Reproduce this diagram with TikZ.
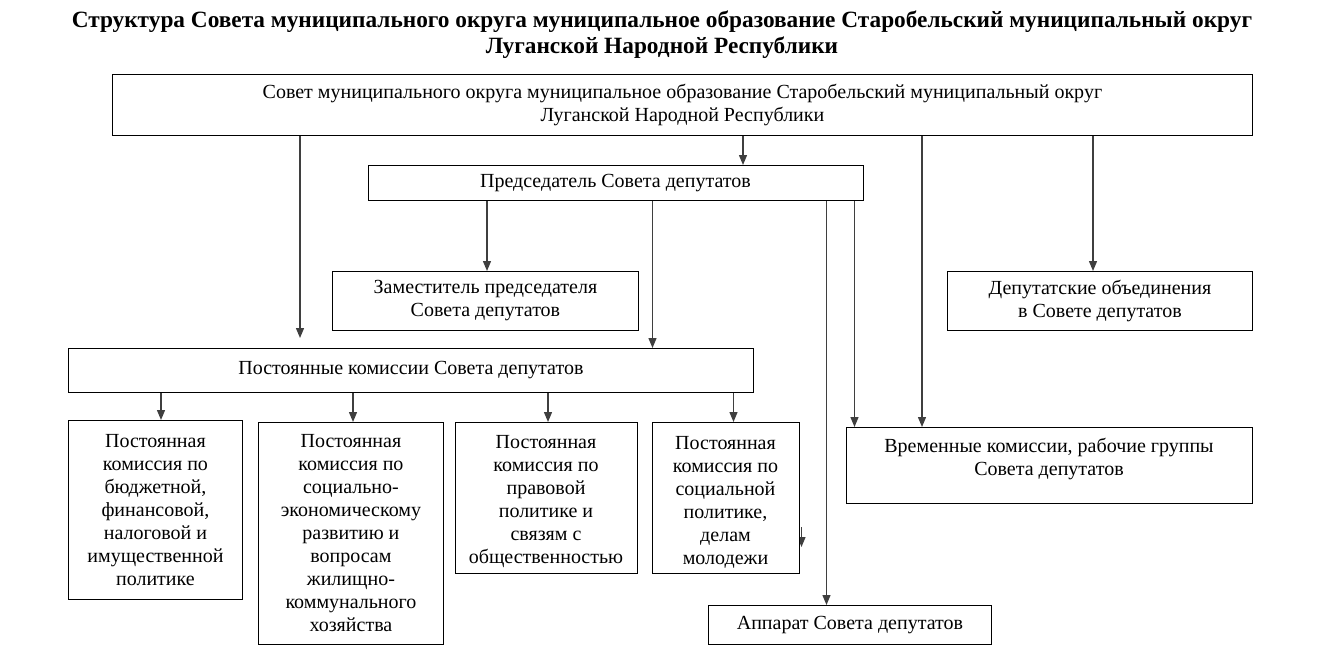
\documentclass[tikz,border=0pt]{standalone}
\usepackage{fontspec}
\setmainfont{Liberation Serif}
\usetikzlibrary{arrows.meta}
\definecolor{linegray}{HTML}{3F3F3F}
\tikzset{
  box/.style={draw=black, line width=0.9pt, fill=white, rectangle, inner sep=0pt, anchor=north west,
    align=center, font=\fontsize{20}{23}\selectfont},
  lbl/.style={inner sep=0pt, align=center, font=\fontsize{20}{23}\selectfont},
  arr/.style={draw=linegray, line width=1.3pt, -{Triangle[width=8pt,length=10pt]}}
}
\begin{document}
\begin{tikzpicture}[x=1pt,y=-1pt]
\useasboundingbox (0,0) rectangle (1331,670);
% title
\node[inner sep=0pt, align=center, font=\bfseries\fontsize{23.3}{26}\selectfont] (title) at (662,35)
  {Структура Совета муниципального округа муниципальное образование Старобельский муниципальный округ\\Луганской Народной Республики};

% stray arrow (partly hidden by the box)
\coordinate (s1) at (801.5,527);
\coordinate (s2) at (801.5,547);
\draw[arr] (s1) -- (s2);

% boxes
\node[box, minimum width=1140pt, minimum height=61pt] (top) at (112,74)
  {Совет муниципального округа муниципальное образование Старобельский муниципальный округ\\Луганской Народной Республики};
\node[box, minimum width=495pt, minimum height=35pt] (chair) at (367.5,165) {Председатель Совета депутатов};
\node[box, minimum width=306pt, minimum height=59pt] (dep) at (332,271) {Заместитель председателя\\Совета депутатов};
\node[box, minimum width=305pt, minimum height=59pt] (assoc) at (947,271) {Депутатские объединения\\в Совете депутатов};
\node[box, minimum width=685pt, minimum height=44pt] (perm) at (68,348) {Постоянные комиссии Совета депутатов};
\node[box, minimum width=406pt, minimum height=76pt] (temp) at (846,427) {};
\node[lbl] (templ) at (1049,459) {Временные комиссии, рабочие группы\\Совета депутатов};
\node[box, minimum width=174pt, minimum height=179pt] (c1) at (68,420)
  {Постоянная\\комиссия по\\бюджетной,\\финансовой,\\налоговой и\\имущественной\\политике};
\node[box, minimum width=185pt, minimum height=222pt] (c2) at (258,422)
  {Постоянная\\комиссия по\\социально-\\экономическому\\развитию и\\вопросам\\жилищно-\\коммунального\\хозяйства};
\node[box, minimum width=182pt, minimum height=151pt] (c3) at (455,422) {};
\node[lbl] (c3l) at (546,502)
  {Постоянная\\комиссия по\\правовой\\политике и\\связям с\\общественностью};
\node[box, minimum width=147pt, minimum height=151pt] (c4) at (652,422) {};
\node[lbl] (c4l) at (725.5,502)
  {Постоянная\\комиссия по\\социальной\\политике,\\делам\\молодежи};
\node[box, minimum width=283pt, minimum height=39pt] (app) at (708,605) {Аппарат Совета депутатов};

% x positions
\coordinate (xa) at (300,0);
\coordinate (xb) at (743,0);
\coordinate (xc) at (922,0);
\coordinate (xd) at (1093,0);
\coordinate (xe) at (487,0);
\coordinate (xf) at (652.5,0);
\coordinate (xg) at (826.5,0);
\coordinate (xh) at (854.5,0);
\coordinate (k1) at (161,0);
\coordinate (k2) at (353,0);
\coordinate (k3) at (548,0);
\coordinate (k4) at (733.5,0);

% connectors
\draw[arr, shorten >=10pt] (top.south -| xa) -- (perm.north -| xa);
\draw[arr] (top.south -| xb) -- (chair.north -| xb);
\draw[arr] (top.south -| xc) -- (temp.north -| xc);
\draw[arr] (top.south -| xd) -- (assoc.north -| xd);
\draw[arr] (chair.south -| xe) -- (dep.north -| xe);
\draw[arr] (chair.south -| xf) -- (perm.north -| xf);
\draw[arr] (chair.south -| xg) -- (app.north -| xg);
\draw[arr] (chair.south -| xh) -- (temp.north -| xh);
\draw[arr] (perm.south -| k1) -- (c1.north -| k1);
\draw[arr] (perm.south -| k2) -- (c2.north -| k2);
\draw[arr] (perm.south -| k3) -- (c3.north -| k3);
\draw[arr] (perm.south -| k4) -- (c4.north -| k4);
\end{tikzpicture}
\end{document}
